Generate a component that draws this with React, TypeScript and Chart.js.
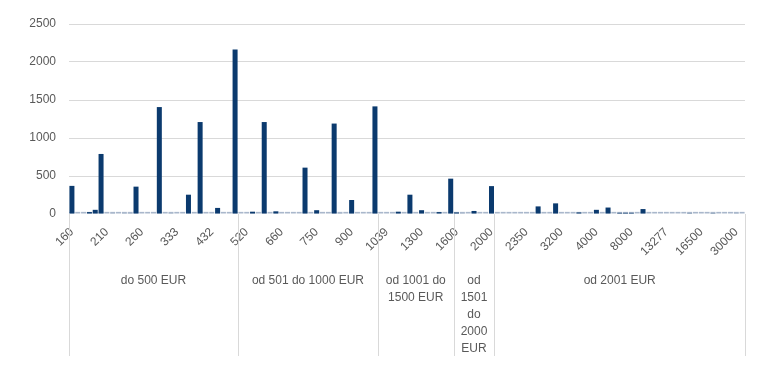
import React, { useEffect, useRef } from "react";
import { Chart, registerables } from "chart.js";

Chart.register(...registerables);

// Category values (EUR), one bar per category
const categories: string[] = [
  "160", "170", "180", "190", "195", "200", "210", "220", "230", "235",
  "240", "250", "260", "270", "280", "300", "310", "320", "333", "340",
  "350", "380", "400", "420", "432", "450", "470", "480", "500",
  "510", "520", "530", "550", "600", "620", "650", "660", "670", "680",
  "690", "700", "720", "750", "770", "780", "800", "820", "850", "900",
  "920", "950", "980", "1000",
  "1020", "1039", "1050", "1100", "1150", "1200", "1250", "1300", "1350", "1380",
  "1400", "1450", "1500",
  "1600", "1650", "1700", "1800", "1850", "1900", "2000",
  "2050", "2100", "2150", "2200", "2300", "2350", "2400", "2500", "2700", "2800",
  "3000", "3200", "3300", "3400", "3500", "3600", "3800", "4000", "4500", "5000",
  "5500", "6000", "7000", "8000", "9000", "10000", "11000", "12000", "13000", "13277",
  "14000", "14500", "15000", "15500", "16000", "16500", "17000", "18000", "20000", "22000",
  "25000", "30000", "35000",
];

// Main (dark) series
const mainValues: number[] = [
  370, 0, 0, 25, 55, 790, 0, 8, 0, 5,
  5, 360, 0, 0, 0, 1407, 0, 5, 0, 0,
  254, 0, 1210, 0, 0, 80, 0, 0, 2165,
  0, 0, 30, 0, 1210, 0, 35, 0, 0, 0,
  0, 610, 0, 50, 0, 0, 1190, 5, 0, 184,
  0, 0, 0, 1416,
  0, 0, 0, 30, 0, 254, 0, 50, 0, 0,
  25, 0, 465,
  20, 8, 0, 40, 0, 0, 367,
  0, 0, 0, 0, 0, 0, 0, 100, 0, 0,
  140, 0, 0, 0, 20, 0, 0, 55, 0, 85,
  0, 15, 15, 15, 0, 65, 0, 0, 0, 0,
  0, 0, 0, 10, 0, 0, 0, 10, 0, 0,
  0, 5, 0,
];

// Secondary (light) series, near zero
const lightValues: number[] = [
  28, 28, 28, 28, 28, 28, 28, 28, 28, 28,
  28, 28, 28, 28, 28, 28, 28, 28, 28, 28,
  28, 28, 28, 28, 28, 28, 28, 28, 28,
  28, 28, 28, 28, 28, 28, 28, 28, 28, 28,
  28, 28, 28, 28, 28, 28, 28, 28, 28, 28,
  28, 28, 28, 28,
  28, 28, 28, 28, 28, 28, 28, 28, 28, 28,
  28, 28, 28,
  28, 28, 28, 28, 28, 28, 28,
  28, 28, 28, 28, 28, 28, 28, 28, 28, 28,
  28, 28, 28, 28, 28, 28, 28, 28, 28, 28,
  28, 28, 28, 28, 28, 28, 28, 28, 28, 28,
  28, 28, 28, 28, 28, 28, 28, 28, 28, 28,
  28, 28, 28,
];

// Outer category groups
const groupStarts: number[] = [0, 29, 53, 66, 73];
const groupLabels: string[][] = [
  ["do 500 EUR"],
  ["od 501 do 1000 EUR"],
  ["od 1001 do", "1500 EUR"],
  ["od", "1501", "do", "2000", "EUR"],
  ["od 2001 EUR"],
];

const yTicks: number[] = [0, 500, 1000, 1500, 2000, 2500];
const labelEvery = 6;

const FONT = "'Liberation Sans', Arial, sans-serif";
const TEXT = "#595959";
const GRID = "#d9d9d9";

const groupPlugin = {
  id: "groupAxis",
  afterDraw(chart: any) {
    const x = chart.scales.x;
    const area = chart.chartArea;
    const ctx = chart.ctx;
    const n = categories.length;
    const w = x.getPixelForValue(1) - x.getPixelForValue(0);
    const edge = (i: number) =>
      i >= n ? x.getPixelForValue(n - 1) + w / 2 : x.getPixelForValue(i) - w / 2;
    const bounds = [...groupStarts, n];
    ctx.save();
    ctx.strokeStyle = GRID;
    ctx.lineWidth = 1;
    const yEnd = chart.height - 16;
    bounds.forEach((b) => {
      const px = Math.round(edge(b)) + 0.5;
      ctx.beginPath();
      ctx.moveTo(px, area.bottom);
      ctx.lineTo(px, yEnd);
      ctx.stroke();
    });
    ctx.fillStyle = TEXT;
    ctx.font = `12px ${FONT}`;
    ctx.textAlign = "center";
    ctx.textBaseline = "middle";
    groupLabels.forEach((lines, gi) => {
      const cx = (edge(bounds[gi]) + edge(bounds[gi + 1])) / 2;
      lines.forEach((t, li) => {
        ctx.fillText(t, cx, area.bottom + 67 + li * 17);
      });
    });
    ctx.restore();
  },
};

export default function App() {
  const ref = useRef<HTMLCanvasElement | null>(null);
  useEffect(() => {
    if (!ref.current) return;
    const chart = new Chart(ref.current, {
      type: "bar",
      data: {
        labels: categories,
        datasets: [
          {
            label: "main",
            data: mainValues,
            backgroundColor: "#0b3a6e",
            grouped: false,
            categoryPercentage: 1,
            barPercentage: 0.86,
            order: 0,
          },
          {
            label: "light",
            data: lightValues,
            backgroundColor: "#a9b7cb",
            grouped: false,
            categoryPercentage: 1,
            barPercentage: 0.86,
            order: 1,
          },
        ],
      },
      options: {
        animation: false,
        responsive: true,
        maintainAspectRatio: false,
        layout: { padding: { top: 24, right: 21, left: 0, bottom: 0 } },
        plugins: { legend: { display: false }, tooltip: { enabled: false } },
        scales: {
          x: {
            grid: { display: false, drawTicks: false },
            border: { display: false },
            ticks: {
              autoSkip: false,
              maxRotation: 45,
              minRotation: 45,
              padding: 11,
              color: TEXT,
              font: { family: FONT, size: 12 },
              callback: (_v: any, i: number) => (i % labelEvery === 0 ? categories[i] : ""),
            },
            afterFit: (s: any) => {
              s.height = 158;
            },
          },
          y: {
            min: 0,
            max: 2500,
            afterBuildTicks: (s: any) => {
              s.ticks = yTicks.map((v) => ({ value: v }));
            },
            grid: {
              color: (c: any) => (c.tick && c.tick.value === 0 ? "rgba(0,0,0,0)" : GRID),
              drawTicks: false,
            },
            border: { display: false },
            ticks: {
              padding: 13,
              color: TEXT,
              font: { family: FONT, size: 12 },
              callback: (v: any) => String(v),
            },
            afterFit: (s: any) => {
              s.width = 69;
            },
          },
        },
      },
      plugins: [groupPlugin],
    });
    return () => chart.destroy();
  }, []);
  return (
    <div style={{ position: "fixed", left: 0, top: 0, width: 766, height: 372, background: "#fff" }}>
      <canvas ref={ref} />
    </div>
  );
}
